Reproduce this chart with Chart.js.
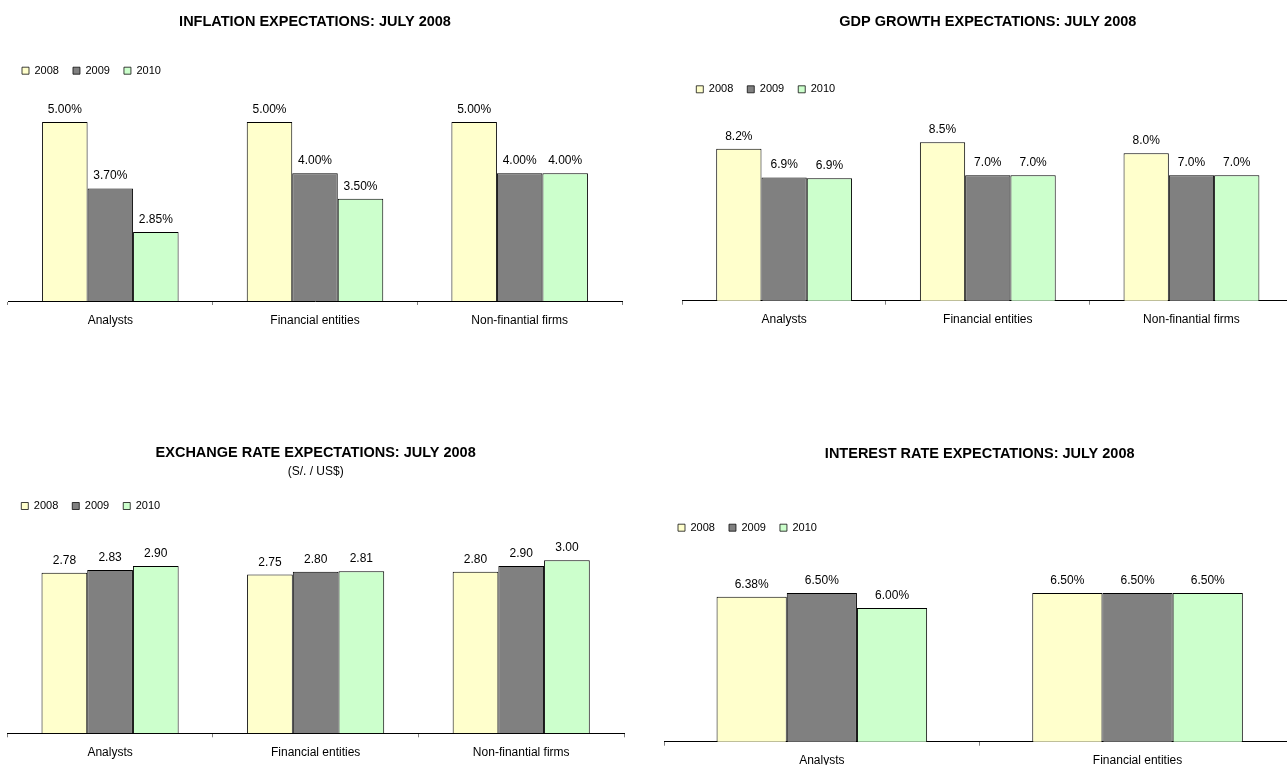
<!DOCTYPE html>
<html>
<head>
<meta charset="utf-8">
<title>Expectations: July 2008</title>
<script src="https://cdn.jsdelivr.net/npm/chart.js@4.4.0/dist/chart.umd.min.js"></script>
<style>
  body { margin: 0; background: #fff; overflow: hidden; width: 1287px; height: 765px; position: relative; }
  .panel { position: absolute; }
</style>
</head>
<body>
<div class="panel" style="left:0;top:0"><canvas id="inflChart" width="640" height="340"></canvas></div>
<div class="panel" style="left:640px;top:0"><canvas id="gdpChart" width="660" height="340"></canvas></div>
<div class="panel" style="left:0;top:380px"><canvas id="fxChart" width="640" height="400"></canvas></div>
<div class="panel" style="left:640px;top:380px"><canvas id="rateChart" width="660" height="400"></canvas></div>
<script>
var years = ['2008', '2009', '2010'];
var groups = ['Analysts', 'Financial entities', 'Non-finantial firms'];
var groups_rate = ['Analysts', 'Financial entities'];

// inflation, %
var infl_2008 = [5.00, 5.00, 5.00];
var infl_2009 = [3.70, 4.00, 4.00];
var infl_2010 = [2.85, 3.50, 4.00];

// gdp growth, %
var gdp_2008 = [8.2, 8.5, 8.0];
var gdp_2009 = [6.9, 7.0, 7.0];
var gdp_2010 = [6.86, 7.0, 7.0];

// exchange rate, S/. per US$
var fx_2008 = [2.78, 2.75, 2.80];
var fx_2009 = [2.83, 2.80, 2.90];
var fx_2010 = [2.90, 2.81, 3.00];

// interest rate, %
var rate_2008 = [6.38, 6.50];
var rate_2009 = [6.50, 6.50];
var rate_2010 = [6.00, 6.50];

var fills = ['#FFFFCC', '#808080', '#CCFFCC'];
var fontFam = '"Liberation Sans", Arial, Helvetica, sans-serif';

// prints the value above each bar
function valueLabels(fmt) {
  return {
    id: 'valueLabels',
    afterDatasetsDraw: function(chart) {
      var ctx = chart.ctx;
      ctx.save();
      ctx.font = '12px ' + fontFam;
      ctx.fillStyle = '#000';
      ctx.textAlign = 'center';
      ctx.textBaseline = 'alphabetic';
      chart.data.datasets.forEach(function(ds, i) {
        chart.getDatasetMeta(i).data.forEach(function(bar, j) {
          ctx.fillText(fmt(ds.data[j]), bar.x, bar.y - 9);
        });
      });
      ctx.restore();
    }
  };
}

function draw_chart(id, o) {
  var _datasets = [];
  for (var k = 0; k < o.series.length; k++) {
    _datasets.push({
      label: years[k],
      data: o.series[k],
      backgroundColor: fills[k],
      borderColor: '#000',
      borderWidth: { top: 1, left: 1, right: 1, bottom: 0 },
      borderSkipped: false,
      categoryPercentage: 0.667,
      barPercentage: 1
    });
  }
  var config = {
    type: 'bar',
    data: { labels: o.labels, datasets: _datasets },
    plugins: [valueLabels(o.fmt)],
    options: {
      responsive: false,
      animation: false,
      layout: { padding: o.pad },
      plugins: {
        title: {
          display: true,
          text: o.title,
          color: '#000',
          font: { family: fontFam, size: 14.5, weight: 'bold' },
          padding: o.titlePad
        },
        subtitle: {
          display: !!o.sub,
          text: o.sub || '',
          color: '#000',
          font: { family: fontFam, size: 12 },
          padding: o.subPad || 0
        },
        legend: {
          position: 'top',
          align: 'start',
          labels: {
            boxWidth: 7,
            boxHeight: 7,
            padding: 14,
            color: '#000',
            font: { family: fontFam, size: 11 }
          }
        },
        tooltip: { enabled: false }
      },
      scales: {
        x: {
          grid: { display: true, drawOnChartArea: false, drawTicks: true, tickLength: 4, color: '#808080', offset: true },
          border: { display: true, color: '#000', width: 1 },
          ticks: { color: '#000', font: { family: fontFam, size: 12 }, padding: 8, maxRotation: 0, autoSkip: false }
        },
        y: { display: false, min: o.min, max: o.max }
      }
    }
  };
  var ctx = document.getElementById(id).getContext('2d');
  return new Chart(ctx, config);
}

window.onload = function() {
  draw_chart('inflChart', {
    title: 'INFLATION EXPECTATIONS: JULY 2008',
    labels: groups,
    series: [infl_2008, infl_2009, infl_2010],
    fmt: function(v) { return v.toFixed(2) + '%'; },
    min: 1.5, max: 5.7,
    pad: { left: 8, right: 18, top: 0, bottom: 4.6 },
    titlePad: { top: 13.3, bottom: 20.5 }
  });
  draw_chart('gdpChart', {
    title: 'GDP GROWTH EXPECTATIONS: JULY 2008',
    labels: groups,
    series: [gdp_2008, gdp_2009, gdp_2010],
    fmt: function(v) { return v.toFixed(1) + '%'; },
    min: 1.3, max: 10.2,
    pad: { left: 42.3, right: 6.7, top: 0, bottom: 4.9 },
    titlePad: { top: 13.3, bottom: 39.1 }
  });
  draw_chart('fxChart', {
    title: 'EXCHANGE RATE EXPECTATIONS: JULY 2008',
    sub: '(S/. / US$)',
    labels: groups,
    series: [fx_2008, fx_2009, fx_2010],
    fmt: function(v) { return v.toFixed(2); },
    min: 0, max: 3.67,
    pad: { left: 7.3, right: 16, top: 0, bottom: 12.3 },
    titlePad: { top: 64.0, bottom: 0 },
    subPad: { top: 3.1, bottom: 7.6 }
  });
  draw_chart('rateChart', {
    title: 'INTEREST RATE EXPECTATIONS: JULY 2008',
    labels: groups_rate,
    series: [rate_2008, rate_2009, rate_2010],
    fmt: function(v) { return v.toFixed(2) + '%'; },
    min: 1.5, max: 8.18,
    pad: { left: 24, right: 4.6, top: 0, bottom: 3.9 },
    titlePad: { top: 65.6, bottom: 45.2 }
  });
};
</script>
</body>
</html>
